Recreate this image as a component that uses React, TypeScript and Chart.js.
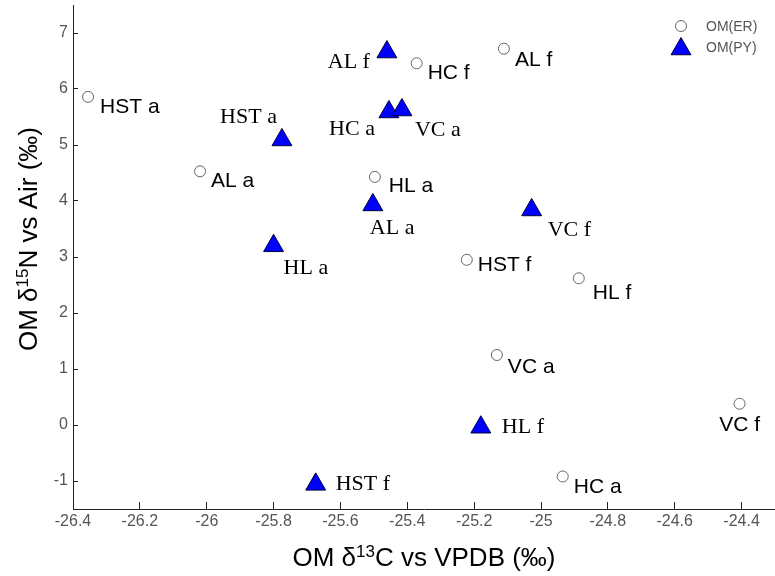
import React, { useEffect, useRef } from 'react';
import { Chart, registerables } from 'chart.js';

Chart.register(...registerables);

// ---- data ----
const seriesNames = ['OM(ER)', 'OM(PY)'];

const erNames = ['HST a', 'AL a', 'HL a', 'HC f', 'AL f', 'HST f', 'HL f', 'VC a', 'HC a', 'VC f'];
const erC13 = [-26.355, -26.02, -25.497, -25.372, -25.111, -25.222, -24.887, -25.132, -24.935, -24.406];
const erN15 = [5.86, 4.53, 4.43, 6.46, 6.72, 2.95, 2.62, 1.25, -0.92, 0.38];

const pyNames = ['AL f', 'HC a', 'VC a', 'HST a', 'AL a', 'HL a', 'VC f', 'HL f', 'HST f'];
const pyC13 = [-25.461, -25.455, -25.416, -25.775, -25.503, -25.8, -25.028, -25.18, -25.674];
const pyN15 = [6.66, 5.59, 5.625, 5.09, 3.93, 3.2, 3.84, -0.04, -1.06];

const xTicks = [-26.4, -26.2, -26, -25.8, -25.6, -25.4, -25.2, -25, -24.8, -24.6, -24.4];
const xTickLabels = ['-26.4', '-26.2', '-26', '-25.8', '-25.6', '-25.4', '-25.2', '-25', '-24.8', '-24.6', '-24.4'];
const yTicks = [-1, 0, 1, 2, 3, 4, 5, 6, 7];
const yTickLabels = ['-1', '0', '1', '2', '3', '4', '5', '6', '7'];

// axis titles: [text, isSuperscript]
const xTitleParts: [string, boolean][] = [['OM δ', false], ['13', true], ['C vs VPDB (‰)', false]];
const yTitleParts: [string, boolean][] = [['OM δ', false], ['15', true], ['N vs Air (‰)', false]];

// ---- label placement (layout only): [dx, dy, align] ----
const erLabelPlacement: [number, number, CanvasTextAlign][] = [
  [12, 10, 'left'], [11, 10, 'left'], [14, 9, 'left'], [11, 10, 'left'], [11, 12, 'left'],
  [11, 5, 'left'], [14, 15, 'left'], [11, 12, 'left'], [11, 11, 'left'], [0, 21, 'center'],
];
const pyLabelPlacement: [number, number, CanvasTextAlign][] = [
  [-17, 10, 'right'], [-14, 17, 'right'], [13, 20, 'left'], [-5, -23, 'right'], [-3, 23, 'left'],
  [10, 22, 'left'], [16, 20, 'left'], [21, 0, 'left'], [20, 0, 'left'],
];

const SANS = "'Liberation Sans', Arial, sans-serif";
const SERIF = "'Liberation Serif', 'Times New Roman', serif";

const ER_STYLE = { fill: '#ffffff', border: '#666666', radius: 5.5, width: 1 };
const PY_STYLE = { fill: '#0000ff', border: '#000040', radius: 11.5, width: 1 };

function drawTri(ctx: CanvasRenderingContext2D, x: number, y: number, r: number) {
  ctx.beginPath();
  ctx.moveTo(x, y - r);
  ctx.lineTo(x + Math.sin((2 * Math.PI) / 3) * r, y + r / 2);
  ctx.lineTo(x - Math.sin((2 * Math.PI) / 3) * r, y + r / 2);
  ctx.closePath();
}

const pointLabelsPlugin = {
  id: 'pointLabels',
  afterDatasetsDraw(chart: any) {
    const ctx = chart.ctx as CanvasRenderingContext2D;
    const defs = [
      { names: erNames, place: erLabelPlacement, font: `21px ${SANS}` },
      { names: pyNames, place: pyLabelPlacement, font: `22px ${SERIF}` },
    ];
    defs.forEach((d, di) => {
      const meta = chart.getDatasetMeta(di);
      meta.data.forEach((el: any, i: number) => {
        const [dx, dy, align] = d.place[i];
        ctx.save();
        ctx.font = d.font;
        ctx.fillStyle = '#000000';
        ctx.textAlign = align;
        ctx.textBaseline = 'middle';
        ctx.fillText(d.names[i], el.x + dx, el.y + dy);
        ctx.restore();
      });
    });
  },
};

const MAIN_FONT = `26px ${SANS}`;
const SUP_FONT = `17px ${SANS}`;

function drawRichTitle(ctx: CanvasRenderingContext2D, parts: [string, boolean][], cx: number, cy: number, rot: number) {
  ctx.save();
  ctx.translate(cx, cy);
  ctx.rotate(rot);
  let total = 0;
  const widths = parts.map(([t, sup]) => {
    ctx.font = sup ? SUP_FONT : MAIN_FONT;
    const w = ctx.measureText(t).width;
    total += w;
    return w;
  });
  let x = -total / 2;
  ctx.fillStyle = '#000000';
  ctx.textAlign = 'left';
  ctx.textBaseline = 'alphabetic';
  parts.forEach(([t, sup], i) => {
    ctx.font = sup ? SUP_FONT : MAIN_FONT;
    ctx.fillText(t, x, sup ? 0 : 9);
    x += widths[i];
  });
  ctx.restore();
}

const axisTitlesPlugin = {
  id: 'axisTitles',
  afterDraw(chart: any) {
    const ctx = chart.ctx as CanvasRenderingContext2D;
    const ca = chart.chartArea;
    drawRichTitle(ctx, xTitleParts, (ca.left + ca.right) / 2, 557, 0);
    drawRichTitle(ctx, yTitleParts, 28, (ca.top + ca.bottom) / 2 - 18, -Math.PI / 2);
  },
};

const customLegendPlugin = {
  id: 'customLegend',
  afterDraw(chart: any) {
    const ctx = chart.ctx as CanvasRenderingContext2D;
    const x0 = chart.chartArea.right - 94;
    const y0 = chart.chartArea.top + 21;
    ctx.save();
    ctx.beginPath();
    ctx.arc(x0, y0, ER_STYLE.radius, 0, Math.PI * 2);
    ctx.fillStyle = ER_STYLE.fill;
    ctx.fill();
    ctx.lineWidth = ER_STYLE.width;
    ctx.strokeStyle = ER_STYLE.border;
    ctx.stroke();
    drawTri(ctx, x0, y0 + 23, PY_STYLE.radius);
    ctx.fillStyle = PY_STYLE.fill;
    ctx.fill();
    ctx.strokeStyle = PY_STYLE.border;
    ctx.stroke();
    ctx.font = `14px ${SANS}`;
    ctx.fillStyle = '#555555';
    ctx.textAlign = 'left';
    ctx.textBaseline = 'middle';
    ctx.fillText(chart.data.datasets[0].label, x0 + 25, y0 + 1);
    ctx.fillText(chart.data.datasets[1].label, x0 + 25, y0 + 22);
    ctx.restore();
  },
};

function zeroPad(s: any) {
  s.paddingTop = 0;
  s.paddingBottom = 0;
  s.paddingLeft = 0;
  s.paddingRight = 0;
}

export default function App() {
  const ref = useRef<HTMLCanvasElement | null>(null);
  useEffect(() => {
    if (!ref.current) return;
    const chart = new Chart(ref.current, {
      type: 'scatter',
      data: {
        datasets: [
          {
            label: seriesNames[0],
            data: erC13.map((x, i) => ({ x, y: erN15[i] })),
            pointStyle: 'circle',
            pointRadius: ER_STYLE.radius,
            pointBackgroundColor: ER_STYLE.fill,
            pointBorderColor: ER_STYLE.border,
            pointBorderWidth: ER_STYLE.width,
          },
          {
            label: seriesNames[1],
            data: pyC13.map((x, i) => ({ x, y: pyN15[i] })),
            pointStyle: 'triangle',
            pointRadius: PY_STYLE.radius,
            pointBackgroundColor: PY_STYLE.fill,
            pointBorderColor: PY_STYLE.border,
            pointBorderWidth: PY_STYLE.width,
          },
        ],
      },
      options: {
        animation: false,
        responsive: true,
        maintainAspectRatio: false,
        layout: { autoPadding: false, padding: { top: 5, right: 0, bottom: 0, left: 0 } },
        plugins: {
          legend: { display: false },
          tooltip: { enabled: false },
        },
        scales: {
          x: {
            type: 'linear',
            min: -26.4,
            max: -24.3,
            afterBuildTicks: (s: any) => { s.ticks = xTicks.map((v) => ({ value: v })); },
            afterFit: (s: any) => { s.height = 67; zeroPad(s); },
            ticks: {
              autoSkip: false,
              maxRotation: 0,
              padding: 10,
              color: '#555555',
              font: { family: SANS, size: 16 },
              callback: (v: any) => xTickLabels[xTicks.findIndex((t) => Math.abs(t - v) < 1e-6)] ?? '',
            },
            grid: { drawOnChartArea: false, drawTicks: true, tickLength: -7, tickColor: '#222222' },
            border: { display: true, color: '#222222', width: 1 },
            title: { display: false },
          },
          y: {
            type: 'linear',
            min: -1.5,
            max: 7.5,
            afterBuildTicks: (s: any) => { s.ticks = yTicks.map((v) => ({ value: v })); },
            afterFit: (s: any) => { s.width = 73; zeroPad(s); },
            ticks: {
              autoSkip: false,
              padding: 10,
              color: '#555555',
              font: { family: SANS, size: 16 },
              callback: (v: any) => yTickLabels[yTicks.findIndex((t) => Math.abs(t - v) < 1e-6)] ?? '',
            },
            grid: { drawOnChartArea: false, drawTicks: true, tickLength: -5, tickColor: '#222222' },
            border: { display: true, color: '#222222', width: 1 },
            title: { display: false },
          },
        },
      },
      plugins: [pointLabelsPlugin, axisTitlesPlugin, customLegendPlugin],
    } as any);
    return () => chart.destroy();
  }, []);

  return (
    <div style={{ position: 'absolute', left: 0, top: 0, width: 775, height: 576, background: '#ffffff' }}>
      <canvas ref={ref} />
    </div>
  );
}
